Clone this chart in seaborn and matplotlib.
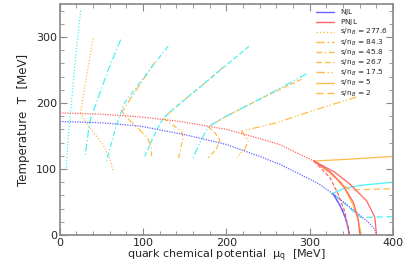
import numpy as np
import pandas as pd
import matplotlib.pyplot as plt
from matplotlib.lines import Line2D
import seaborn as sns

# phase boundaries (mu_q, T) in MeV
njl_cross_mu = [0, 50, 96, 150, 200, 240, 264, 288, 310, 328]
njl_cross_T = [172, 170, 165, 152, 137, 119, 107, 92, 78, 62]
njl_first_mu = [328, 336, 342, 346, 347]
njl_first_T = [62, 45, 28, 12, 0]
njl_spin_out_mu = [328, 345, 360, 372, 378, 380]
njl_spin_out_T = [62, 45, 30, 17, 8, 0]
njl_spin_in_mu = [328, 334, 340, 344, 346, 348]
njl_spin_in_T = [62, 50, 35, 20, 8, 0]

pnjl_cross_mu = [0, 50, 96, 144, 200, 240, 264, 288, 305]
pnjl_cross_T = [185, 183, 179, 172, 160, 146, 137, 122, 112]
pnjl_first_mu = [305, 325, 340, 352, 358, 360]
pnjl_first_T = [112, 95, 75, 50, 25, 0]
pnjl_spin_out_mu = [305, 330, 348, 368, 378, 380]
pnjl_spin_out_T = [112, 95, 77, 52, 27, 0]
pnjl_spin_in_mu = [305, 324, 334, 342, 346, 347]
pnjl_spin_in_T = [112, 87, 62, 35, 10, 0]

# isentropes
sn_labels = ["277.6", "84.3", "45.8", "26.7", "17.5", "5", "2"]

njl_sn_mu = [
    [25, 19, 14, 11, 9, 8],
    [73, 58, 44, 36, 33, 30],
    [130, 115, 78, 68, 62, 56],
    [227, 168, 144, 124, 112, 102],
    [296, 240, 200, 178, 168, 160],
    [326, 340, 360, 400],
    [330, 340, 350, 362, 380, 400],
]
njl_sn_T = [
    [340, 270, 201, 165, 130, 102],
    [296, 250, 201, 172, 145, 117],
    [286, 262, 201, 167, 140, 112],
    [286, 224, 199, 177, 148, 119],
    [244, 206, 180, 164, 140, 117],
    [62, 70, 75, 80],
    [60, 50, 38, 26, 27, 28],
]

pnjl_sn_mu = [
    [40, 32, 25, 27, 38, 47, 54, 60, 64],
    [114, 82, 75, 78, 94, 106, 110, 110],
    [196, 168, 144, 124, 134, 146, 148, 145, 142],
    [290, 240, 200, 178, 186, 192, 188, 178],
    [356, 310, 260, 240, 218, 222, 226, 222, 212],
    [305, 350, 400],
    [305, 320, 335, 348, 370, 400],
]
pnjl_sn_T = [
    [298, 240, 187, 180, 159, 145, 132, 115, 97],
    [262, 201, 187, 180, 162, 145, 132, 119],
    [254, 224, 199, 177, 168, 157, 149, 130, 114],
    [236, 206, 180, 164, 155, 144, 130, 117],
    [209, 191, 170, 164, 157, 150, 142, 130, 117],
    [112, 115, 119],
    [112, 98, 82, 68, 69, 70],
]
pnjl_sn5_low_mu = [305, 318, 330, 342, 352, 358, 362]
pnjl_sn5_low_T = [112, 100, 88, 70, 45, 22, 0]

sn_styles = [(0, (1, 1.5)), (0, (6, 2, 1, 2)), (0, (4, 2, 1, 2)), (0, (4, 2)),
             (0, (6, 2, 1, 1.5, 1, 2)), "-", (0, (5, 3))]

blue = "#6464ff"
red = "#ff6464"
orange = "#ffbb4a"
cyan = "#4af2f2"

sns.set_style("ticks")
plt.rcParams["font.family"] = ["DejaVu Sans"]
plt.rcParams["xtick.direction"] = "in"
plt.rcParams["ytick.direction"] = "in"

fig = plt.figure(figsize=(4.07, 2.70), dpi=100)
ax = fig.add_axes([0.147, 0.130, 0.819, 0.855])


def draw(mu, T, color, ls, lw=0.9):
    df = pd.DataFrame({"mu": mu, "T": T})
    sns.lineplot(data=df, x="mu", y="T", sort=False, estimator=None,
                 color=color, linestyle=ls, linewidth=lw, ax=ax)


# isentropes
for i in range(len(sn_labels)):
    draw(njl_sn_mu[i], njl_sn_T[i], cyan, sn_styles[i])
    draw(pnjl_sn_mu[i], pnjl_sn_T[i], orange, sn_styles[i])
draw(pnjl_sn5_low_mu, pnjl_sn5_low_T, orange, "-")

# NJL phase diagram
draw(njl_cross_mu, njl_cross_T, blue, (0, (1, 1)))
draw(njl_first_mu, njl_first_T, blue, "-")
draw(njl_spin_out_mu, njl_spin_out_T, blue, (0, (1, 1)))
draw(njl_spin_in_mu, njl_spin_in_T, blue, (0, (3, 1.5)))

# PNJL phase diagram
draw(pnjl_cross_mu, pnjl_cross_T, red, (0, (1, 1)))
draw(pnjl_first_mu, pnjl_first_T, red, "-")
draw(pnjl_spin_out_mu, pnjl_spin_out_T, red, "-")
draw(pnjl_spin_in_mu, pnjl_spin_in_T, red, (0, (3, 1.5)))

ax.set_xlim(0, 400)
ax.set_ylim(0, 350)
ax.set_xticks([0, 100, 200, 300, 400])
ax.set_yticks([0, 100, 200, 300])
ax.set_xticks(np.arange(0, 401, 20), minor=True)
ax.set_yticks(np.arange(0, 351, 20), minor=True)
ax.tick_params(which="both", top=True, right=True, color="#888888",
               labelsize=8, pad=2)
ax.tick_params(which="major", length=5)
ax.tick_params(which="minor", length=3)
for s in ax.spines.values():
    s.set_color("#888888")
    s.set_linewidth(1.2)

ax.set_xlabel("quark chemical potential  $\\mathregular{\\mu_q}$  [MeV]",
              fontsize=8, labelpad=0)
ax.set_ylabel("Temperature  T  [MeV]", fontsize=8.5, labelpad=4)

handles = [Line2D([], [], color=blue, lw=1), Line2D([], [], color=red, lw=1)]
labels = ["NJL$_{\\ }$", "PNJL$_{\\ }$"]
for lab, ls in zip(sn_labels, sn_styles):
    handles.append(Line2D([], [], color=orange, lw=1, linestyle=ls))
    labels.append("s/n$_B$ = " + lab)
ax.legend(handles, labels, loc="upper left", bbox_to_anchor=(0.77, 0.985),
          frameon=False, fontsize=5.3, handlelength=2.4, labelspacing=0.0,
          handletextpad=0.8, borderpad=0, borderaxespad=0)

fig.savefig("out.png", dpi=100)
